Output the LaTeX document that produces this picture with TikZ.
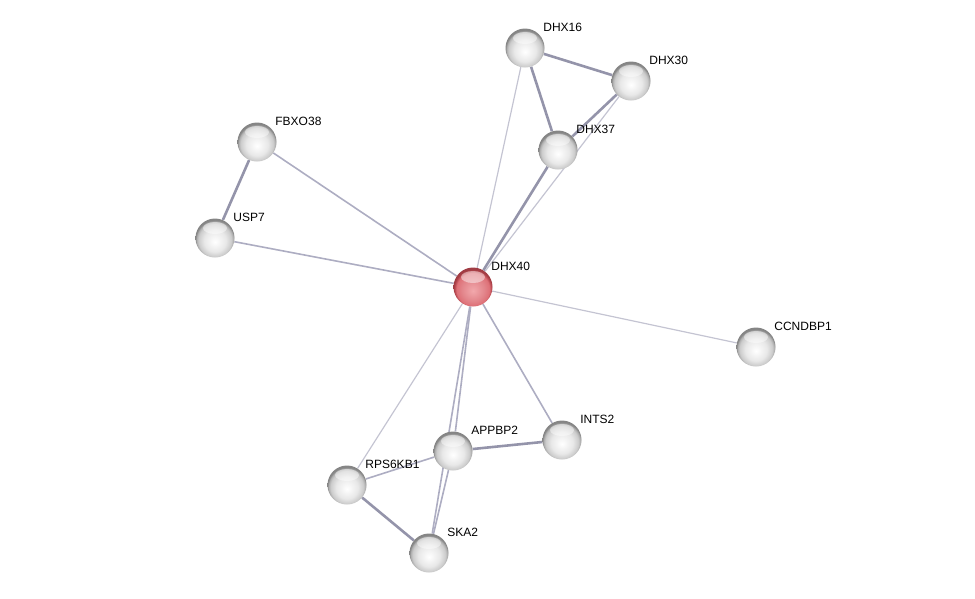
\documentclass[tikz,border=0pt]{standalone}
\usepackage{fontspec}
\usepackage{tikz}
\usetikzlibrary{backgrounds}
\newfontfamily\protfont{Liberation Sans}
\definecolor{edgelight}{HTML}{C4C4D2}
\definecolor{edgemid}{HTML}{ADADC2}
\definecolor{edgedark}{HTML}{9494AA}
\definecolor{redlight}{HTML}{F2A8AC}
\definecolor{redmid}{HTML}{DE7178}
\definecolor{reddark}{HTML}{B2434B}
\pgfdeclareradialshading{protgrey}{\pgfpoint{0bp}{-5bp}}{%
  color(0bp)=(white); color(14bp)=(black!9); color(21bp)=(black!20);
  color(24bp)=(black!34); color(25bp)=(black!48); color(50bp)=(black!48)}
\pgfdeclareradialshading{protred}{\pgfpoint{0bp}{-5bp}}{%
  color(0bp)=(redlight); color(14bp)=(redmid!85!white); color(21bp)=(redmid);
  color(24bp)=(reddark); color(25bp)=(reddark!90!black); color(50bp)=(reddark!90!black)}
\tikzset{
  protein/.style={
    circle, minimum size=39pt, inner sep=0pt, shading=#1,
    path picture={\fill[white, opacity=0.45]
      ([yshift=10pt]path picture bounding box.center) ellipse (12pt and 6pt);}
  },
  protein/.default=protgrey,
  tag/.style={label={[font=\protfont\fontsize{12}{14}\selectfont,
    inner sep=0pt, xshift=-1.5pt, yshift=21pt]0:#1}},
  weak/.style={draw=edgelight, line width=1.2pt},
  medium/.style={draw=edgemid, line width=1.6pt},
  strong/.style={draw=edgedark, line width=2.6pt},
}
\begin{document}
\begin{tikzpicture}[x=1pt, y=-1pt]
  \useasboundingbox (0,0) rectangle (975,598);
  \node[protein=protred, tag=DHX40] (dhx40) at (473,287) {};
  \node[protein, tag=DHX16] (dhx16) at (525,48) {};
  \node[protein, tag=DHX30] (dhx30) at (631,81) {};
  \node[protein, tag=DHX37] (dhx37) at (558,150) {};
  \node[protein, tag=FBXO38] (fbxo38) at (257,142) {};
  \node[protein, tag=USP7] (usp7) at (215,238) {};
  \node[protein, tag=CCNDBP1] (ccndbp1) at (756,347) {};
  \node[protein, tag=INTS2] (ints2) at (562,440) {};
  \node[protein, tag=APPBP2] (appbp2) at (453,451) {};
  \node[protein, tag=RPS6KB1] (rps6kb1) at (347,485) {};
  \node[protein, tag=SKA2] (ska2) at (429,553) {};
  % interactions
  \begin{scope}[on background layer]
    \draw[weak] (dhx40) -- (dhx16);
    \draw[weak] (dhx40) -- (dhx30);
    \draw[weak] (dhx40) -- (ccndbp1);
    \draw[weak] (dhx40) -- (rps6kb1);
    \draw[medium] (dhx40) -- (fbxo38);
    \draw[medium] (dhx40) -- (usp7);
    \draw[medium] (dhx40) -- (ints2);
    \draw[medium] (dhx40) -- (appbp2);
    \draw[medium] (dhx40) -- (ska2);
    \draw[medium] (appbp2) -- (ska2);
    \draw[medium] (appbp2) -- (rps6kb1);
    \draw[strong] (dhx40) -- (dhx37);
    \draw[strong] (dhx16) -- (dhx30);
    \draw[strong] (dhx16) -- (dhx37);
    \draw[strong] (dhx37) -- (dhx30);
    \draw[strong] (fbxo38) -- (usp7);
    \draw[strong] (appbp2) -- (ints2);
    \draw[strong] (rps6kb1) -- (ska2);
  \end{scope}
\end{tikzpicture}
\end{document}
